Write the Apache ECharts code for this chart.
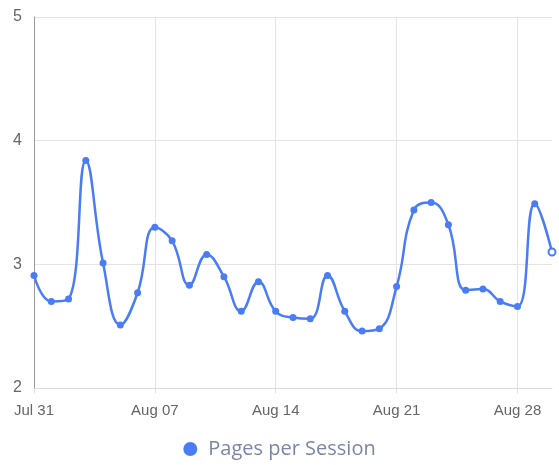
<!DOCTYPE html>
<html><head><meta charset="utf-8">
<script src="https://cdn.jsdelivr.net/npm/echarts@6/dist/echarts.min.js"></script>
<style>html,body{margin:0;padding:0;background:#fff}#c{width:559px;height:465px}</style>
</head><body><div id="c"></div>
<script>
const categories = ['Jul 31','Aug 01','Aug 02','Aug 03','Aug 04','Aug 05','Aug 06','Aug 07','Aug 08','Aug 09','Aug 10','Aug 11','Aug 12','Aug 13','Aug 14','Aug 15','Aug 16','Aug 17','Aug 18','Aug 19','Aug 20','Aug 21','Aug 22','Aug 23','Aug 24','Aug 25','Aug 26','Aug 27','Aug 28','Aug 29','Aug 30'];
const pagesPerSession = [2.91,2.70,2.72,3.84,3.01,2.51,2.77,3.30,3.19,2.83,3.08,2.90,2.62,2.86,2.62,2.57,2.56,2.91,2.62,2.46,2.48,2.82,3.44,3.50,3.32,2.79,2.80,2.70,2.66,3.49,3.10];
const seriesName = 'Pages per Session';
const yTicks = [2,3,4,5];

const blue = '#4a7cf6';
const data = pagesPerSession.map((v,i)=> i===pagesPerSession.length-1
  ? {value:v,itemStyle:{color:'#fff',borderColor:blue,borderWidth:2}} : v);

const chart = echarts.init(document.getElementById('c'));
chart.setOption({
  animation:false,
  grid:{left:34,right:7,top:17,bottom:77,containLabel:false},
  legend:{data:[{name:seriesName,icon:'circle'}],top:434,left:'center',itemWidth:14,itemHeight:14,itemGap:10,
    textStyle:{color:'#7b86a6',fontSize:20,fontFamily:'Open Sans',padding:[0,0,0,6]}},
  xAxis:{type:'category',data:categories,boundaryGap:false,
    axisLine:{lineStyle:{color:'#dcdcdc'}},
    axisTick:{show:true,interval:6,length:5,lineStyle:{color:'#dcdcdc'}},
    axisLabel:{interval:6,color:'#666',fontSize:15,fontFamily:'Liberation Sans',margin:15},
    splitLine:{show:true,interval:6,lineStyle:{color:'#e3e3e3'}}},
  yAxis:{type:'value',min:yTicks[0],max:yTicks[yTicks.length-1],interval:1,
    axisLine:{show:true,lineStyle:{color:'#9a9a9a'}},
    axisTick:{show:false},
    axisLabel:{color:'#666',fontSize:16,fontFamily:'Liberation Sans',margin:12},
    splitLine:{lineStyle:{color:'#e3e3e3'}}},
  series:[{name:seriesName,type:'line',data:data,smooth:0.45,symbol:'circle',symbolSize:7,
    itemStyle:{color:blue},lineStyle:{color:blue,width:2.5}}]
});
</script></body></html>
